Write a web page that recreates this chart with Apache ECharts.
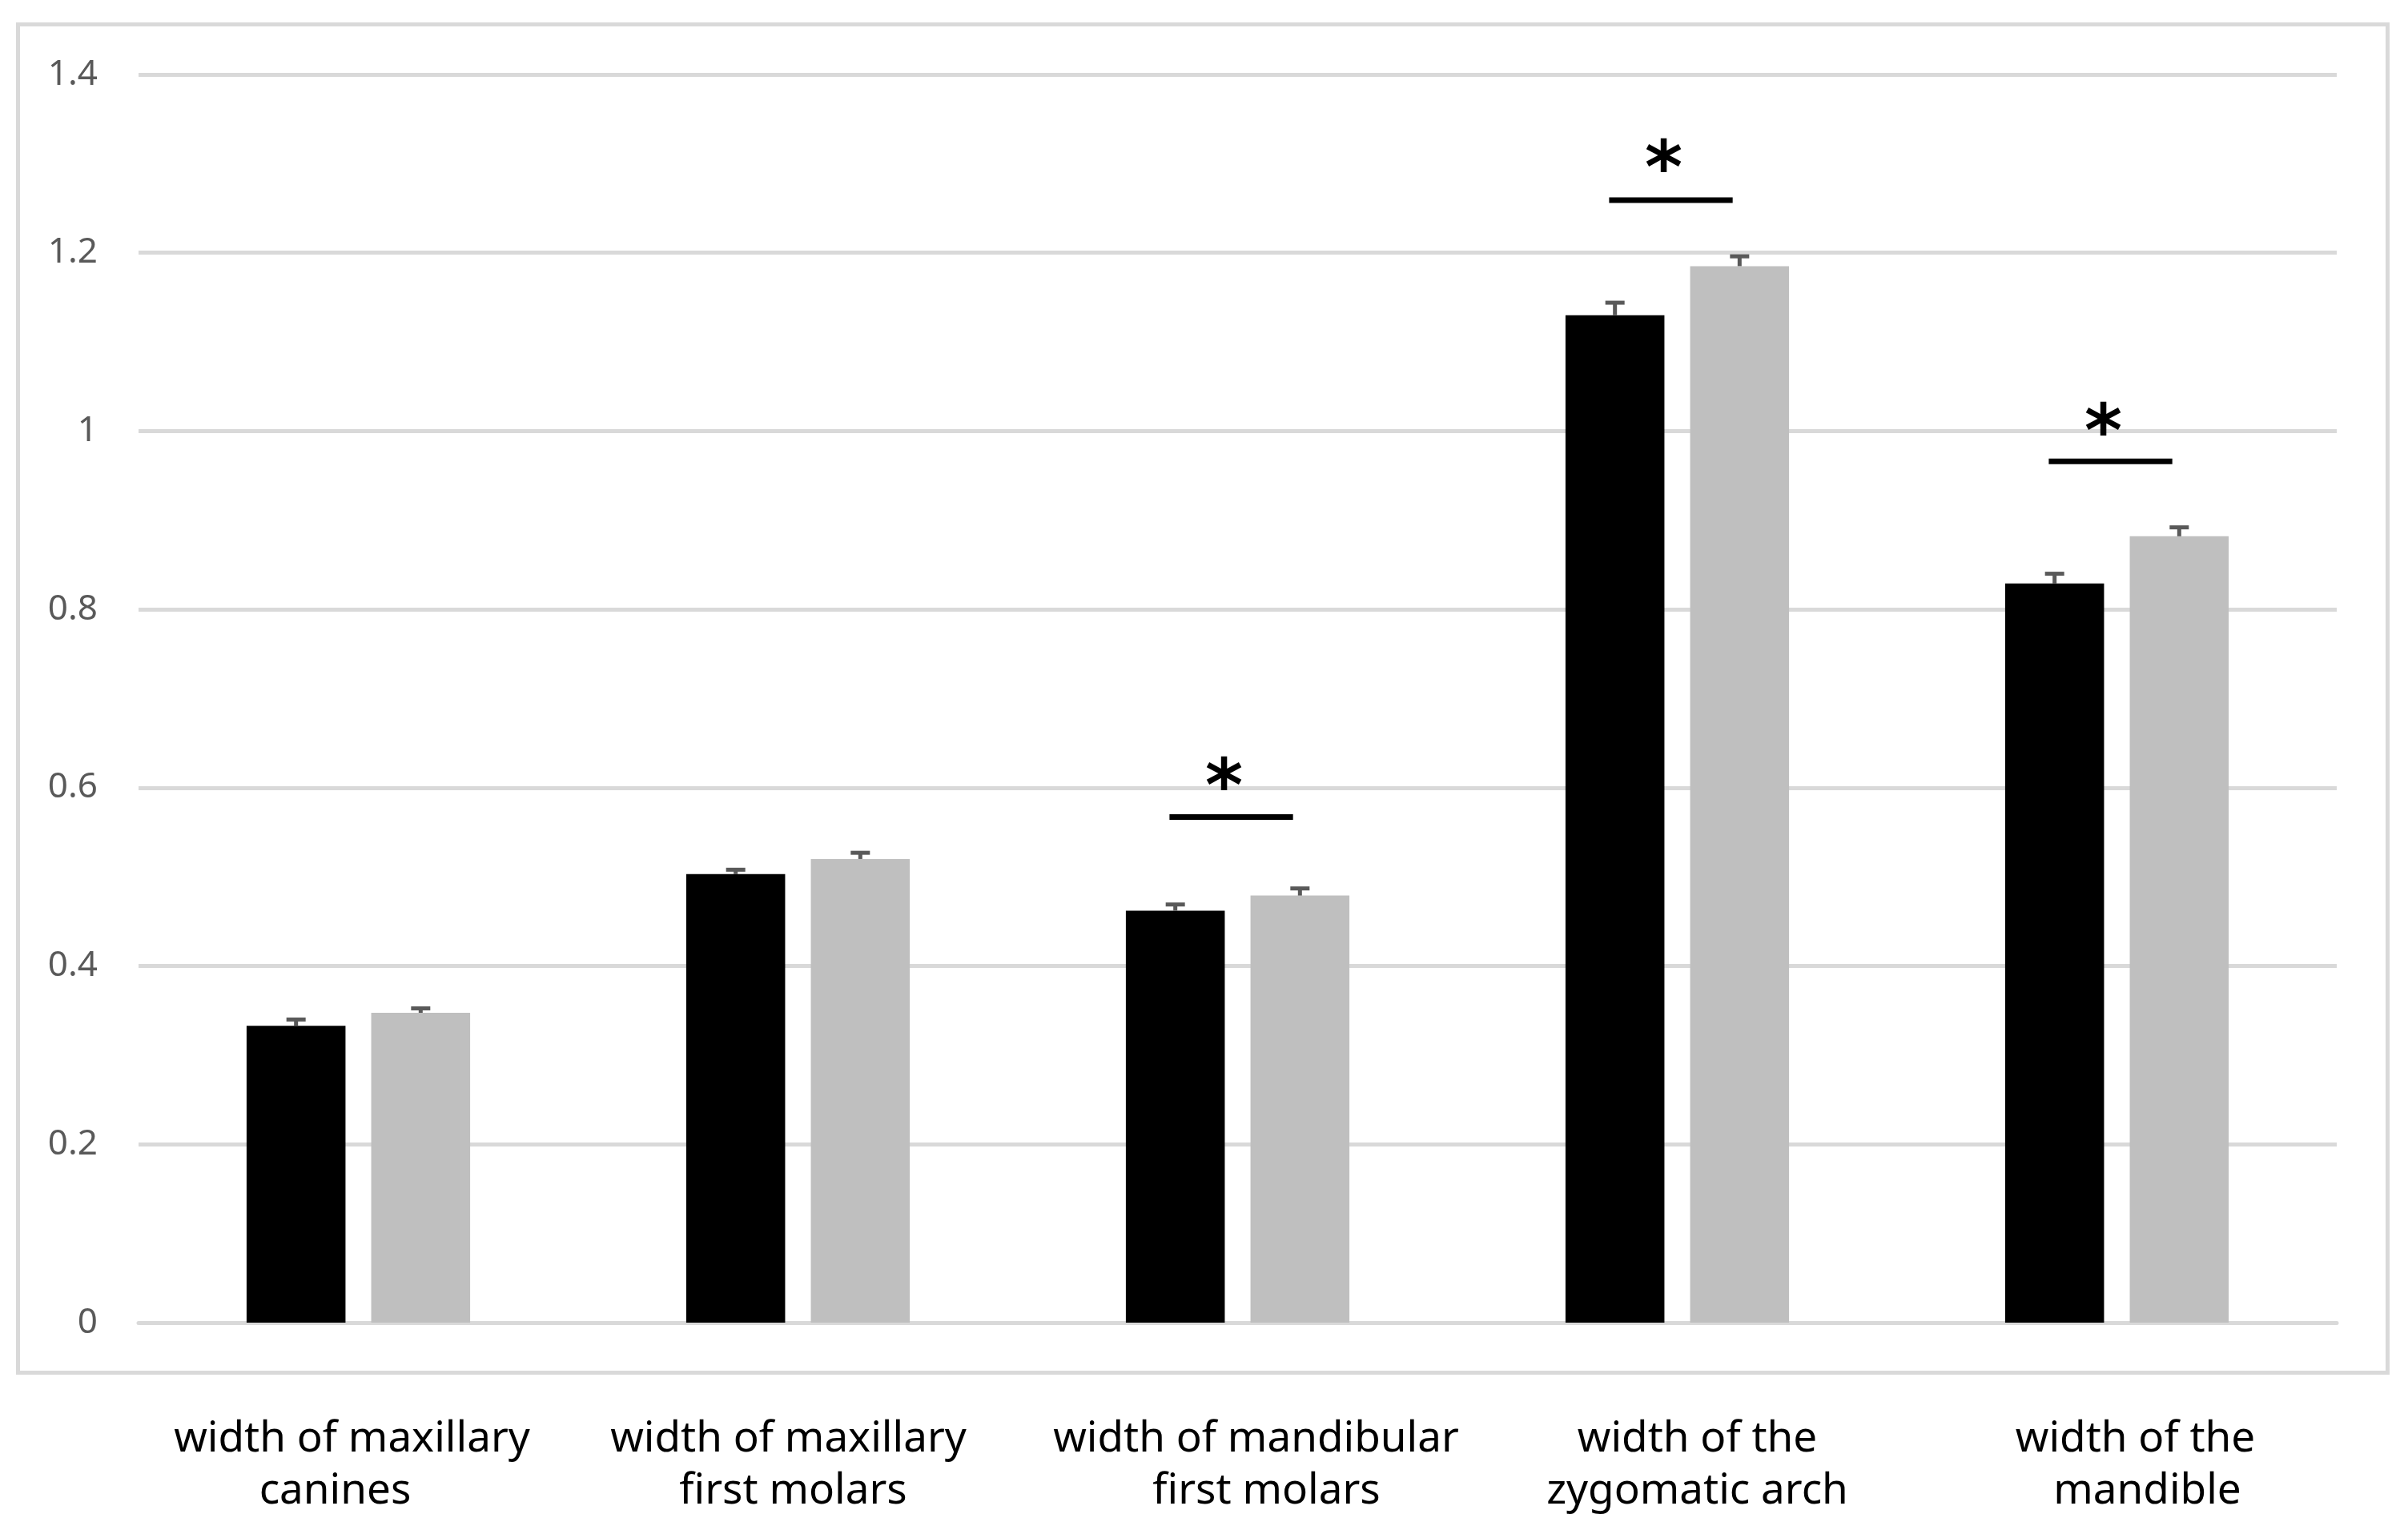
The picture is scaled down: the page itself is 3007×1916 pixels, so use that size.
<!DOCTYPE html>
<html>
<head>
<meta charset="utf-8">
<script src="https://cdn.jsdelivr.net/npm/echarts@6/dist/echarts.min.js"></script>
<style>
  html, body { margin: 0; padding: 0; background: #ffffff; }
  #chart { width: 3007px; height: 1916px; }
</style>
</head>
<body>
<div id="chart"></div>
<script>
// ---- data ----
const categories = [
  'width of maxillary\ncanines',
  'width of maxillary\nfirst molars',
  'width of mandibular\nfirst molars',
  'width of the\nzygomatic arch',
  'width of the\nmandible'
];
const blackValues = [0.333, 0.503, 0.462, 1.130, 0.829];
const grayValues  = [0.3475, 0.520, 0.479, 1.185, 0.882];
const blackErrors = [0.007, 0.005, 0.007, 0.014, 0.011];
const grayErrors  = [0.005, 0.007, 0.008, 0.011, 0.010];
// significance markers: category index, bracket value, asterisk value
const sigCategories = [2, 3, 4];
const sigLineValues = [0.567, 1.259, 0.966];
const sigStarValues = [0.612, 1.305, 1.010];
const yTicks = { min: 0, max: 1.4, interval: 0.2 };

// ---- styling ----
const BAR_W = 0.225;   // fraction of category band
const BAR_GAP = 0.26;  // fraction of bar width
// horizontal nudge (px) of each label line, to mimic the original's wrapping
const labelNudge = [[-8, -29], [-12, -6], [23, 36], [25, 25], [23, 38]];

const labelFont = { color: '#000000', fontFamily: 'Noto Sans', fontSize: 53, lineHeight: 65 };
const rich = {};
labelNudge.forEach((pair, i) => {
  pair.forEach((n, j) => {
    const pad = n >= 0 ? [0, 0, 0, 2 * n] : [0, -2 * n, 0, 0];
    rich['c' + i + 'l' + j] = Object.assign({ padding: pad }, labelFont);
  });
});

// ---- build ----
const errorData = [];
blackValues.forEach((v, i) => errorData.push([i, v, blackErrors[i], 0]));
grayValues.forEach((v, i) => errorData.push([i, v, grayErrors[i], 1]));

const sigData = sigCategories.map((c, i) => [c, sigLineValues[i], sigStarValues[i]]);

const chart = echarts.init(document.getElementById('chart'));
chart.setOption({
  backgroundColor: '#ffffff',
  animation: false,
  graphic: [{
    type: 'rect',
    shape: { x: 22.5, y: 30.5, width: 2959, height: 1684 },
    style: { fill: 'none', stroke: '#d9d9d9', lineWidth: 5 },
    silent: true
  }],
  grid: { left: 173, right: 89, top: 93, bottom: 264, containLabel: false },
  xAxis: {
    type: 'category',
    data: categories,
    axisLine: { show: true, lineStyle: { color: '#d9d9d9', width: 5 } },
    axisTick: { show: false },
    axisLabel: Object.assign({
      interval: 0,
      margin: 113,
      rich: rich,
      formatter: function (value, index) {
        return value.split('\n').map((l, j) => '{c' + index + 'l' + j + '|' + l + '}').join('\n');
      }
    }, labelFont)
  },
  yAxis: {
    type: 'value',
    min: yTicks.min,
    max: yTicks.max,
    interval: yTicks.interval,
    axisLine: { show: false },
    axisTick: { show: false },
    axisLabel: {
      color: '#595959',
      fontFamily: 'Noto Sans',
      fontSize: 44,
      margin: 51
    },
    splitLine: { lineStyle: { color: '#d9d9d9', width: 5 } }
  },
  series: [
    {
      type: 'bar',
      data: blackValues,
      barWidth: (BAR_W * 100) + '%',
      barGap: (BAR_GAP * 100) + '%',
      itemStyle: { color: '#000000' }
    },
    {
      type: 'bar',
      data: grayValues,
      barWidth: (BAR_W * 100) + '%',
      barGap: (BAR_GAP * 100) + '%',
      itemStyle: { color: '#bfbfbf' }
    },
    {
      type: 'custom',
      data: errorData,
      encode: { x: 0, y: 1 },
      z: 5,
      renderItem: function (params, api) {
        const c = api.value(0), v = api.value(1), e = api.value(2), s = api.value(3);
        const bw = api.size([1, 0])[0];
        const barW = bw * BAR_W;
        const off = (barW + barW * BAR_GAP) / 2 * (s === 0 ? -1 : 1);
        const p0 = api.coord([c, v]);
        const p1 = api.coord([c, v + e]);
        const x = p0[0] + off;
        const st = { stroke: '#595959', lineWidth: 5 };
        return {
          type: 'group',
          children: [
            { type: 'line', shape: { x1: x, y1: p0[1], x2: x, y2: p1[1] }, style: st },
            { type: 'line', shape: { x1: x - 12, y1: p1[1], x2: x + 12, y2: p1[1] }, style: st }
          ]
        };
      }
    },
    {
      type: 'custom',
      data: sigData,
      encode: { x: 0, y: 1 },
      z: 6,
      renderItem: function (params, api) {
        const c = api.value(0), lv = api.value(1), sv = api.value(2);
        const bw = api.size([1, 0])[0];
        const pl = api.coord([c, lv]);
        const ps = api.coord([c, sv]);
        return {
          type: 'group',
          children: [
            { type: 'line',
              shape: { x1: pl[0] - 0.155 * bw, y1: pl[1], x2: pl[0] + 0.126 * bw, y2: pl[1] },
              style: { stroke: '#000000', lineWidth: 7 } },
            { type: 'text',
              x: ps[0] - 0.031 * bw, y: ps[1] + 18,
              style: { text: '*', fill: '#000000', fontSize: 90, fontWeight: 'bold',
                       fontFamily: 'DejaVu Sans', align: 'center', verticalAlign: 'middle' } }
          ]
        };
      }
    }
  ]
});
</script>
</body>
</html>
